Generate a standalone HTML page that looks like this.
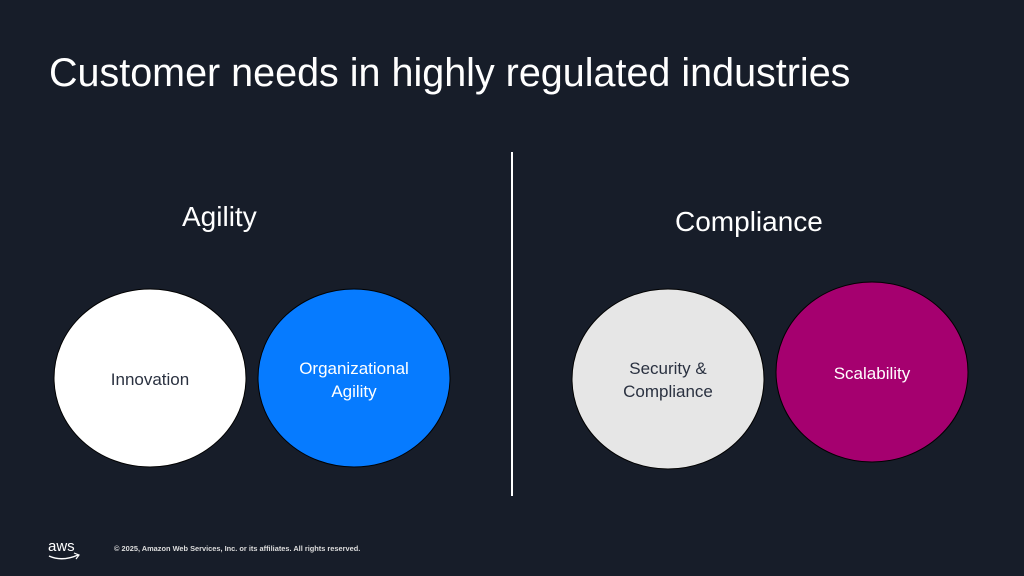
<!DOCTYPE html><html><head><style>
body{margin:0;width:1024px;height:576px;background:#171d29;overflow:hidden;position:relative;font-family:"Liberation Sans",sans-serif}
.t{position:absolute;color:#fff;white-space:nowrap}
</style></head><body>
<div class="t" style="left:49px;top:51px;font-size:39.5px">Customer needs in highly regulated industries</div>
<div class="t" style="left:182px;top:201px;font-size:28px">Agility</div>
<div class="t" style="left:675px;top:206px;font-size:28px">Compliance</div>
<div style="position:absolute;left:511px;top:152px;width:2px;height:344px;background:#fff"></div>
<svg width="1024" height="576" style="position:absolute;left:0;top:0">
<ellipse cx="150" cy="378" rx="96" ry="89" fill="#fff" stroke="#000" stroke-width="1"/>
<ellipse cx="354" cy="378" rx="96" ry="89" fill="#067bff" stroke="#000" stroke-width="1"/>
<ellipse cx="668" cy="379" rx="96" ry="90" fill="#e6e6e6" stroke="#000" stroke-width="1"/>
<ellipse cx="872" cy="372" rx="96" ry="90" fill="#a5006f" stroke="#000" stroke-width="1"/>
<g font-family="Liberation Sans, sans-serif" font-size="17" text-anchor="middle">
<text x="150" y="385" fill="#2a3140">Innovation</text>
<text x="354" y="374" fill="#fff">Organizational</text>
<text x="354" y="397" fill="#fff">Agility</text>
<text x="668" y="374" fill="#2a3140">Security &amp;</text>
<text x="668" y="397" fill="#2a3140">Compliance</text>
<text x="872" y="379" fill="#fff">Scalability</text>
</g>
<text x="48" y="551" fill="#fff" font-size="15" font-family="Liberation Sans, sans-serif">aws</text>
<path d="M49 556 Q62 562 78 555" stroke="#fff" stroke-width="1.5" fill="none"/>
<path d="M74 553 L79 555 L76 559" stroke="#fff" stroke-width="1.2" fill="none"/>
<text x="114" y="551" fill="#ddd" font-size="7.4" font-weight="bold" font-family="Liberation Sans, sans-serif">© 2025, Amazon Web Services, Inc. or its affiliates. All rights reserved.</text>
</svg>
</body></html>
